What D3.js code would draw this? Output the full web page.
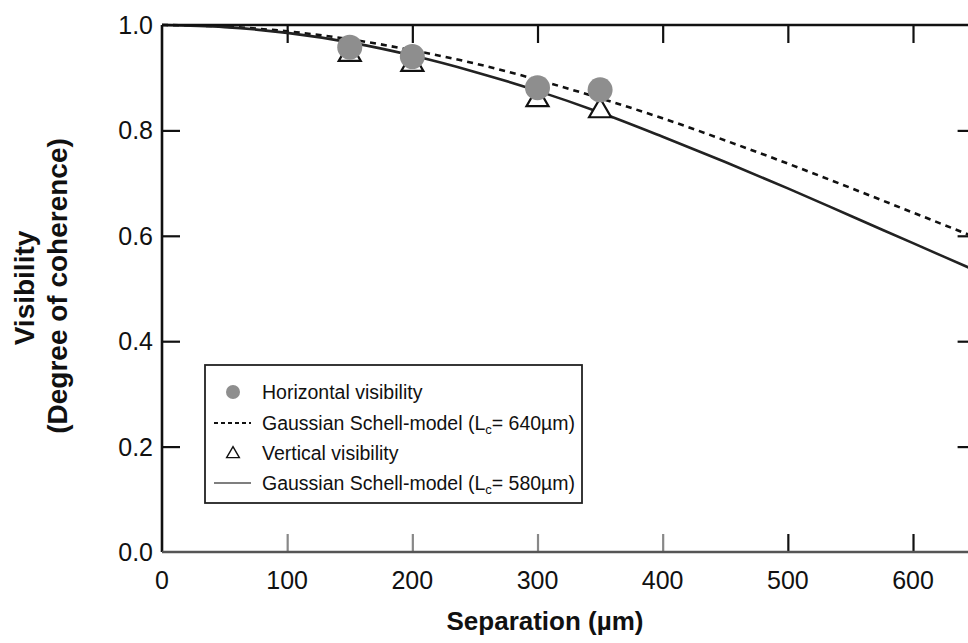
<!DOCTYPE html>
<html>
<head>
<meta charset="utf-8">
<script src="https://cdn.jsdelivr.net/npm/d3@7/dist/d3.min.js"></script>
<style>
  html, body { margin: 0; padding: 0; background: #fff; }
  svg { display: block; }
  text { font-family: "Liberation Sans", Arial, Helvetica, sans-serif; fill: #111; }
</style>
</head>
<body>
<svg id="chart" width="968" height="643"></svg>
<script>
// ---- data ----
const separations = [150, 200, 300, 350];
const horizontalVisibility = [0.958, 0.940, 0.881, 0.877];
const verticalVisibility = [0.944, 0.925, 0.858, 0.837];

const curveSeparation = [0, 50, 100, 150, 200, 250, 300, 350, 400, 450, 500, 550, 600, 650];
const gsm640 = [1.0, 0.997, 0.988, 0.973, 0.952, 0.927, 0.896, 0.861, 0.823, 0.781, 0.737, 0.691, 0.644, 0.597];
const gsm580 = [1.0, 0.996, 0.985, 0.967, 0.942, 0.911, 0.875, 0.834, 0.788, 0.740, 0.690, 0.638, 0.586, 0.534];

const xTicks = [0, 100, 200, 300, 400, 500, 600];
const yTicks = [0.0, 0.2, 0.4, 0.6, 0.8, 1.0];

const legendLabels = ["Horizontal visibility", "Gaussian Schell-model", "Vertical visibility", "Gaussian Schell-model"];
const legendLc = [null, "640µm", null, "580µm"];

// ---- layout ----
const svg = d3.select("#chart");
const x = d3.scaleLinear().domain([0, 650]).range([162, 975.6]);
const y = d3.scaleLinear().domain([0, 1]).range([552, 25]);
const X0 = x(0), X1 = x(650), Y0 = y(0), Y1 = y(1);

svg.append("defs").append("clipPath").attr("id", "plotclip")
  .append("rect").attr("x", X0).attr("y", Y1 - 3).attr("width", X1 - X0).attr("height", Y0 - Y1 + 3);

const TL = 18;
// axes with inward ticks
const axB = svg.append("g").attr("transform", `translate(0,${Y0})`)
  .call(d3.axisBottom(x).tickValues(xTicks.filter(d => d > 0)).tickSize(-TL).tickFormat(""));
const axT = svg.append("g").attr("transform", `translate(0,${Y1})`)
  .call(d3.axisTop(x).tickValues(xTicks.filter(d => d > 0)).tickSize(-TL).tickFormat(""));
const axL = svg.append("g").attr("transform", `translate(${X0},0)`)
  .call(d3.axisLeft(y).tickValues(yTicks.filter(d => d > 0 && d < 1)).tickSize(-TL).tickFormat(""));
const axR = svg.append("g").attr("transform", `translate(${X1},0)`)
  .call(d3.axisRight(y).tickValues(yTicks.filter(d => d > 0 && d < 1)).tickSize(-TL).tickFormat(""));
[axB, axT, axL, axR].forEach(g => {
  g.select(".domain").remove();
  g.selectAll(".tick line").attr("stroke", "#111").attr("stroke-width", 2.2);
});
axB.selectAll(".tick line").attr("stroke", (d) => d <= 400 ? "#888" : "#111");

// tick labels
svg.append("g").selectAll("text").data(xTicks).join("text")
  .attr("x", d => x(d)).attr("y", 589)
  .attr("text-anchor", "middle").attr("font-size", 25)
  .text(d => d);
svg.append("g").selectAll("text").data(yTicks).join("text")
  .attr("x", 153).attr("y", d => y(d)).attr("dy", "0.36em")
  .attr("text-anchor", "end").attr("font-size", 25)
  .text(d => d.toFixed(1));

// curves
const line = d3.line().x(d => x(d[0])).y(d => y(d[1])).curve(d3.curveMonotoneX);
const plot = svg.append("g").attr("clip-path", "url(#plotclip)");
plot.append("path").datum(curveSeparation.map((s, i) => [s, gsm640[i]]))
  .attr("d", line).attr("fill", "none").attr("stroke", "#111")
  .attr("stroke-width", 2.6).attr("stroke-dasharray", "6,5");
plot.append("path").datum(curveSeparation.map((s, i) => [s, gsm580[i]]))
  .attr("d", line).attr("fill", "none").attr("stroke", "#222")
  .attr("stroke-width", 2.6);

// frame
svg.append("path")
  .attr("d", `M${X0},${Y1}H${X1}`).attr("stroke", "#111").attr("stroke-width", 2.6);
svg.append("path")
  .attr("d", `M${X0},${Y1}V${Y0}`).attr("stroke", "#111").attr("stroke-width", 2.6);
svg.append("path")
  .attr("d", `M${X0},${Y0}H${X1}`).attr("stroke", "#555").attr("stroke-width", 2.4);

// vertical visibility triangles
const tri = d3.symbol().type(d3.symbolTriangle).size(210);
svg.append("g").selectAll("path").data(separations).join("path")
  .attr("transform", (d, i) => `translate(${x(d)},${y(verticalVisibility[i])})`)
  .attr("d", tri).attr("fill", "#fff").attr("stroke", "#111").attr("stroke-width", 2.2);

// horizontal visibility circles
svg.append("g").selectAll("circle").data(separations).join("circle")
  .attr("cx", d => x(d)).attr("cy", (d, i) => y(horizontalVisibility[i]))
  .attr("r", 12.5).attr("fill", "#8e8e8e");

// legend
const lg = svg.append("g");
lg.append("rect").attr("x", 205).attr("y", 365).attr("width", 377).attr("height", 138)
  .attr("fill", "#fff").attr("stroke", "#222").attr("stroke-width", 1.8);
const rowY = [392, 423, 453, 483];
lg.append("circle").attr("cx", 233).attr("cy", rowY[0]).attr("r", 7).attr("fill", "#8e8e8e");
lg.append("path").attr("d", `M214,${rowY[1]}H251`).attr("stroke", "#111").attr("stroke-width", 1.8).attr("stroke-dasharray", "4,3");
lg.append("path").attr("transform", `translate(233,${rowY[2] + 1})`)
  .attr("d", d3.symbol().type(d3.symbolTriangle).size(70)).attr("fill", "#fff").attr("stroke", "#111").attr("stroke-width", 1.4);
lg.append("path").attr("d", `M214,${rowY[3]}H251`).attr("stroke", "#555").attr("stroke-width", 1.6);

legendLabels.forEach((lab, i) => {
  const t = lg.append("text").attr("x", 262).attr("y", rowY[i]).attr("dy", "0.36em")
    .attr("font-size", 19.5);
  t.append("tspan").text(lab);
  if (legendLc[i]) {
    t.append("tspan").text(" (L");
    t.append("tspan").attr("font-size", 13).attr("dy", 4).text("c");
    t.append("tspan").attr("dy", -4).text("= " + legendLc[i] + ")");
  }
});

// axis titles
svg.append("text").attr("x", 545).attr("y", 630).attr("text-anchor", "middle")
  .attr("font-size", 26).attr("font-weight", "bold").text("Separation (µm)");
svg.append("text").attr("transform", "translate(34,288) rotate(-90)").attr("text-anchor", "middle")
  .attr("font-size", 28).attr("font-weight", "bold").text("Visibility");
svg.append("text").attr("transform", "translate(67,286) rotate(-90)").attr("text-anchor", "middle")
  .attr("font-size", 28).attr("font-weight", "bold").text("(Degree of coherence)");
</script>
</body>
</html>
